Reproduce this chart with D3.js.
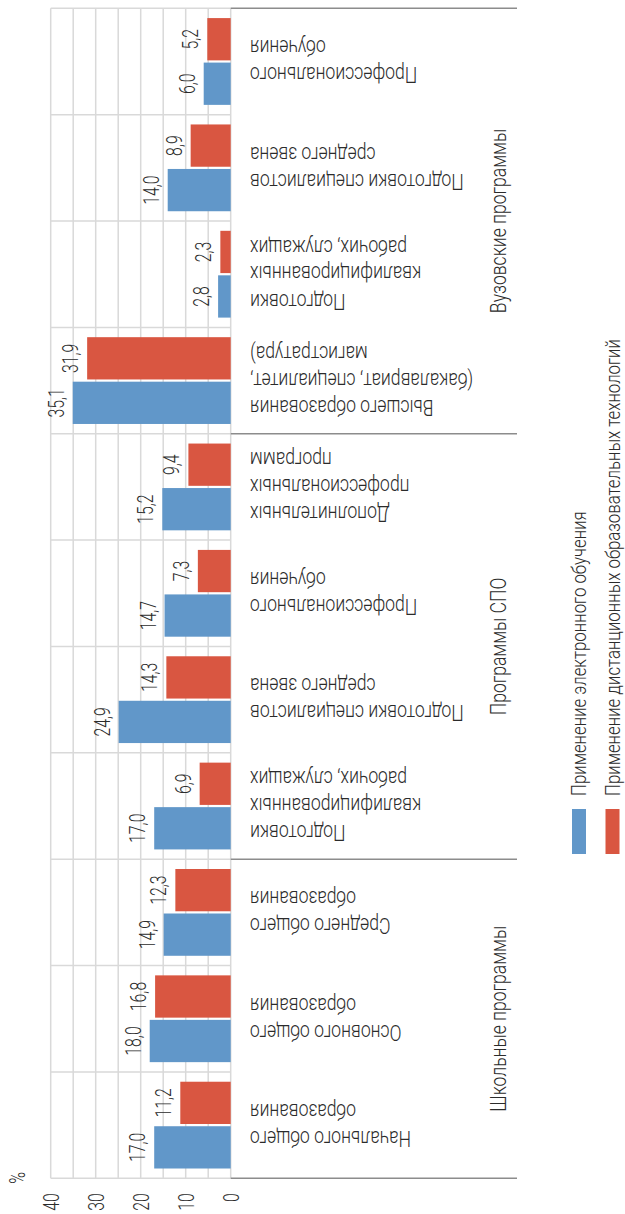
<!DOCTYPE html>
<html>
<head>
<meta charset="utf-8">
<script src="https://cdn.jsdelivr.net/npm/d3@7"></script>
<style>
  body { margin: 0; background: #fff; }
  text { font-family: Roboto, "Noto Sans", sans-serif; font-weight: 300; fill: #2b2b2b; }
</style>
</head>
<body>
<div id="chart"></div>
<script>
// categories from left to right of the unrotated chart (bottom to top on screen)
const categories = [
  "Начального общего\nобразования",
  "Основного общего\nобразования",
  "Среднего общего\nобразования",
  "Подготовки\nквалифицированных\nрабочих, служащих",
  "Подготовки специалистов\nсреднего звена",
  "Профессионального\nобучения",
  "Дополнительных\nпрофессиональных\nпрограмм",
  "Высшего образования\n(бакалавриат, специалитет,\nмагистратура)",
  "Подготовки\nквалифицированных\nрабочих, служащих",
  "Подготовки специалистов\nсреднего звена",
  "Профессионального\nобучения"
];
const elearning = [17.0, 18.0, 14.9, 17.0, 24.9, 14.7, 15.2, 35.1, 2.8, 14.0, 6.0];
const distance  = [11.2, 16.8, 12.3, 6.9, 14.3, 7.3, 9.4, 31.9, 2.3, 8.9, 5.2];
const groupNames = ["Школьные программы", "Программы СПО", "Вузовские программы"];
const groupSizes = [3, 4, 4];
const seriesNames = ["Применение электронного обучения", "Применение дистанционных образовательных технологий"];
const valueTicks = [0, 10, 20, 30, 40];

const WIDTH = 625, HEIGHT = 1214;
const PLOT = {LEFT: 50.7, ZERO: 230.7, TOP: 8.3, BOTTOM: 1178.3, GROUP_END: 517};
const FONT = 22, LINE = 27;
const SQUEEZE = 0.8, NUM_SQUEEZE = 0.72;
const COLORS = ["#6197c9", "#d95641"];

const svg = d3.select("#chart").append("svg")
  .attr("width", WIDTH)
  .attr("height", HEIGHT);

const y = d3.scaleBand()
  .domain(d3.range(categories.length))
  .range([PLOT.BOTTOM, PLOT.TOP]);

const inner = d3.scaleBand()
  .domain([0, 1])
  .range([y.bandwidth(), 0])
  .paddingInner(0.05)
  .paddingOuter(0.22);

const x = d3.scaleLinear()
  .domain([0, 40])
  .range([PLOT.ZERO, PLOT.LEFT]);

// boundary between category k-1 and k
const edge = k => k === 0 ? y(0) + y.bandwidth() : y(k - 1);

// grid
svg.append("g").selectAll("line")
  .data(x.ticks(8))
  .enter().append("line")
  .attr("x1", d => x(d)).attr("x2", d => x(d))
  .attr("y1", PLOT.TOP).attr("y2", PLOT.BOTTOM)
  .attr("stroke", "#d9d9d9").attr("stroke-width", 1.5);

svg.append("g").selectAll("line")
  .data(d3.range(categories.length + 1))
  .enter().append("line")
  .attr("x1", PLOT.LEFT).attr("x2", PLOT.ZERO)
  .attr("y1", d => edge(d)).attr("y2", d => edge(d))
  .attr("stroke", "#d9d9d9").attr("stroke-width", 1.5);

// group separators
const groupEdges = [0, ...d3.cumsum(groupSizes)];
svg.append("g").selectAll("line")
  .data(groupEdges)
  .enter().append("line")
  .attr("x1", PLOT.ZERO).attr("x2", PLOT.GROUP_END)
  .attr("y1", d => edge(d)).attr("y2", d => edge(d))
  .attr("stroke", "#8c8c8c").attr("stroke-width", 1.5);

// bars
const fmt = v => d3.format(".1f")(v).replace(".", ",");
[elearning, distance].forEach((values, s) => {
  const g = svg.append("g");
  g.selectAll("rect")
    .data(values)
    .enter().append("rect")
    .attr("x", d => x(d))
    .attr("y", (d, i) => y(i) + inner(s))
    .attr("width", d => x(0) - x(d))
    .attr("height", inner.bandwidth())
    .attr("fill", COLORS[s]);

  g.selectAll("text")
    .data(values)
    .enter().append("text")
    .attr("text-anchor", "middle")
    .attr("font-size", FONT)
    .attr("transform", (d, i) =>
      `translate(${x(d) - 9},${y(i) + inner(s) + inner.bandwidth() / 2}) rotate(-90) scale(${NUM_SQUEEZE},1)`)
    .text(fmt);
});

// value axis
const axis = svg.append("g")
  .attr("transform", `translate(0,${PLOT.BOTTOM})`)
  .call(d3.axisBottom(x).tickValues(valueTicks).tickSize(0).tickPadding(0).tickFormat(d3.format("d")))
  .attr("font-family", null)
  .attr("font-size", FONT);
axis.select(".domain").remove();
axis.selectAll("text")
  .attr("y", null)
  .attr("dy", "0.35em")
  .attr("text-anchor", "end")
  .attr("transform", `translate(0,15) rotate(-90) scale(${NUM_SQUEEZE},1)`);

svg.append("text")
  .attr("text-anchor", "middle")
  .attr("dy", "0.35em")
  .attr("font-size", FONT)
  .attr("transform", `translate(17.5,1178) rotate(-90) scale(${NUM_SQUEEZE},1)`)
  .text("%");

// category labels (upside down, as in the source)
const catText = svg.append("g").selectAll("text")
  .data(categories)
  .enter().append("text")
  .attr("text-anchor", "end")
  .attr("font-size", FONT)
  .attr("transform", (d, i) => `translate(250,${y(i) + y.bandwidth() / 2}) rotate(180) scale(${SQUEEZE},1)`);
catText.each(function(d) {
  const lines = d.split("\n");
  d3.select(this).selectAll("tspan")
    .data(lines)
    .enter().append("tspan")
    .attr("x", 0)
    .attr("y", (l, j) => (j - (lines.length - 1) / 2) * LINE)
    .attr("dy", "0.35em")
    .text(l => l);
});

// group labels
svg.append("g").selectAll("text")
  .data(groupNames)
  .enter().append("text")
  .attr("text-anchor", "middle")
  .attr("font-size", FONT)
  .attr("transform", (d, i) =>
    `translate(506,${(edge(groupEdges[i]) + edge(groupEdges[i + 1])) / 2}) rotate(-90) scale(${SQUEEZE},1)`)
  .text(d => d);

// legend
const legend = svg.append("g").selectAll("g")
  .data(seriesNames)
  .enter().append("g")
  .attr("transform", (d, i) => `translate(${579 + i * 33.5},0)`);
legend.append("rect")
  .attr("x", -7).attr("y", 809)
  .attr("width", 14).attr("height", 45)
  .attr("fill", (d, i) => COLORS[i]);
legend.append("text")
  .attr("text-anchor", "start")
  .attr("dy", "0.35em")
  .attr("font-size", 21)
  .attr("transform", `translate(0,796) rotate(-90) scale(${SQUEEZE},1)`)
  .text(d => d);
</script>
</body>
</html>
